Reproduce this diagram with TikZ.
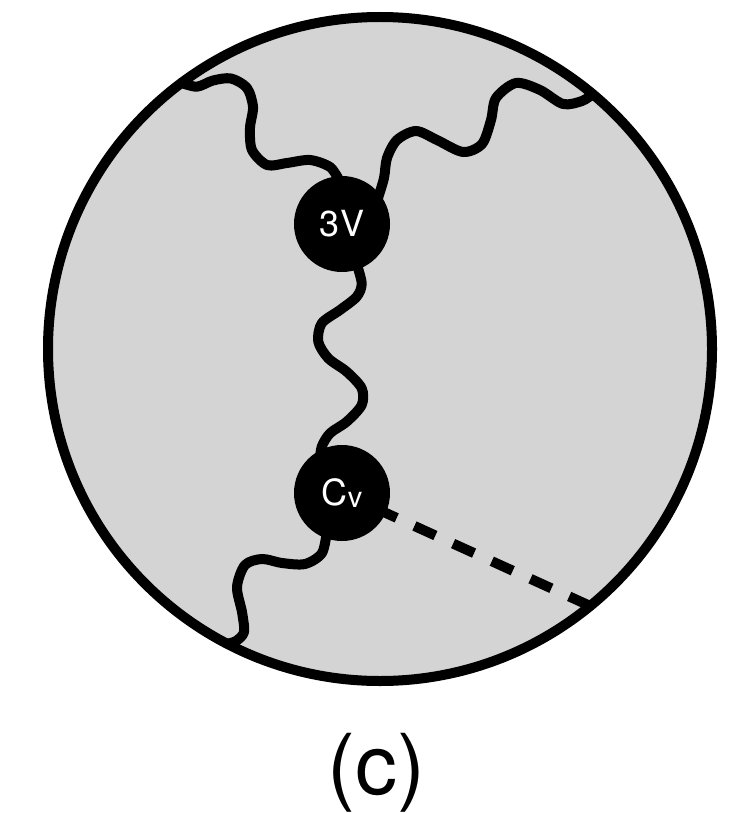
\documentclass[tikz,border=0pt]{standalone}
\usepackage{fontspec}
\setmainfont{TeX Gyre Heros}
\usetikzlibrary{calc}
\definecolor{discgray}{RGB}{212,212,212}
\pgfdeclarelayer{back}
\pgfsetlayers{back,main}
\tikzset{
  vertex/.style={circle, fill=black, inner sep=0pt, minimum size=96pt,
    text=white, font=\fontsize{36}{40}\selectfont},
  gluon/.style={line width=10pt, line cap=round, line join=round},
  scalar/.style={line width=10pt, dash pattern=on 23pt off 19.5pt, dash phase=5.4pt},
  rim/.style={line width=10pt},
}
\begin{document}
\begin{tikzpicture}[x=1pt,y=-1pt]
\useasboundingbox (0,0) rectangle (739,813);
\coordinate (o) at (380,349);
% vertices
\node[vertex] (tv) at (342,224) {3V};
\node[vertex] (cv) at (342,493) {C\raisebox{-2pt}{\fontsize{29}{31}\selectfont v}};
% where the lines meet the rim
\coordinate (tl) at (181.4,82.9);
\coordinate (tr) at (592.7,94.1);
\coordinate (bl) at (227.1,643.7);
\coordinate (se) at (590.2,606);
\begin{pgfonlayer}{back}
  \fill[discgray] (o) circle[radius=332];
  % wavy propagators
  \draw[gluon] plot[smooth] coordinates {(tl) (197,86.7) (213,80.5) (231,78.5)
    (247,88) (253,107) (250,128) (252,150) (267,165) (287,163) (310,160)
    (330,167) (339,180)};
  \draw[gluon] plot[smooth] coordinates {(378,198) (384,178) (387,158) (397,140)
    (416,131) (437,140) (463,152) (482,144) (491,120) (496,98) (516,83)
    (540,90) (563,104) (582,101) (tr)};
  \draw[gluon] plot[smooth] coordinates {(356,262) (361.7,283.3) (356.7,296.7)
    (340,310) (321.7,323.3) (318.3,341.7) (328.3,358.3) (346.7,371.7)
    (361.7,388.3) (361.7,405) (346.7,421.7) (330,433.3) (321.7,446.7) (320,460)};
  \draw[gluon] plot[smooth] coordinates {(327,530) (322,553) (305,564) (282,563)
    (262,559) (245,565) (237,587) (242,612) (244,632) (236,641) (bl)};
  % dashed line
  \draw[scalar] (cv.center) -- (se);
\end{pgfonlayer}
\draw[rim] (o) circle[radius=332];
\node[anchor=base, font=\fontsize{84}{90}\selectfont] (lab) at (376,794) {(c)};
\end{tikzpicture}
\end{document}
